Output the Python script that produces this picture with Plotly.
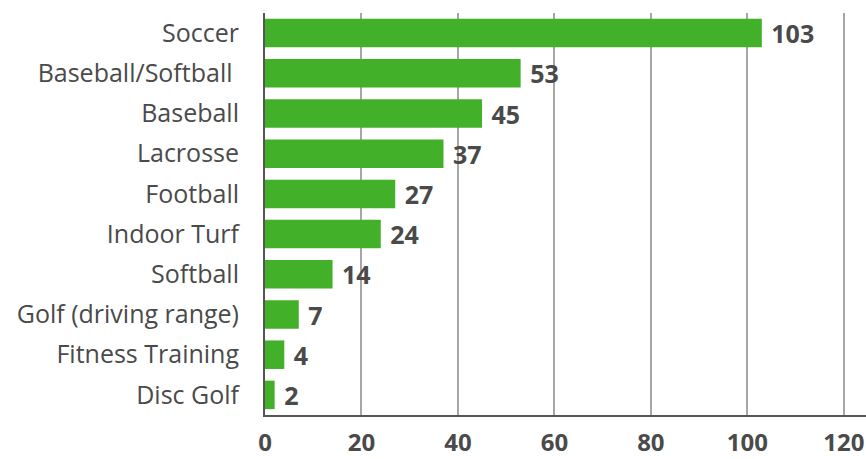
import plotly.graph_objects as go

# Facilities by sport (count)
sports = [
    "Soccer",
    "Baseball/Softball ",
    "Baseball",
    "Lacrosse",
    "Football",
    "Indoor Turf",
    "Softball",
    "Golf (driving range)",
    "Fitness Training",
    "Disc Golf",
]
counts = [103, 53, 45, 37, 27, 24, 14, 7, 4, 2]
x_ticks = [0, 20, 40, 60, 80, 100, 120]

GREEN = "#43b02a"
TEXT = "#4a4a4a"
FONT = "Open Sans"

fig = go.Figure(
    go.Bar(
        y=sports,
        x=counts,
        orientation="h",
        marker=dict(color=GREEN, line=dict(width=0)),
        text=[f" {v}" for v in counts],
        textposition="outside",
        constraintext="none",
        textfont=dict(family=FONT, size=25, color=TEXT, weight="bold"),
        cliponaxis=False,
        hoverinfo="skip",
    )
)

fig.update_layout(
    width=866,
    height=459,
    margin=dict(l=265, r=0, t=13, b=44),
    paper_bgcolor="white",
    plot_bgcolor="white",
    bargap=0.29,
    showlegend=False,
    font=dict(family=FONT, color=TEXT),
)

fig.update_xaxes(
    automargin=False,
    range=[0, 124.6],
    tickvals=x_ticks,
    ticktext=[str(t) for t in x_ticks],
    tickfont=dict(family=FONT, size=24, color=TEXT, weight="bold"),
    showgrid=True,
    gridcolor="#a6a6a6",
    gridwidth=1.5,
    zeroline=False,
    showline=True,
    linecolor="#555555",
    linewidth=2,
    ticks="outside",
    ticklen=5,
    tickcolor="rgba(0,0,0,0)",
)

fig.update_yaxes(
    automargin=False,
    categoryorder="array",
    categoryarray=sports[::-1],
    tickfont=dict(family=FONT, size=25, color=TEXT),
    showline=True,
    linecolor="#555555",
    linewidth=2,
    ticks="outside",
    ticklen=19,
    tickcolor="rgba(0,0,0,0)",
    showgrid=False,
    zeroline=False,
)

fig.write_html("out.html")
